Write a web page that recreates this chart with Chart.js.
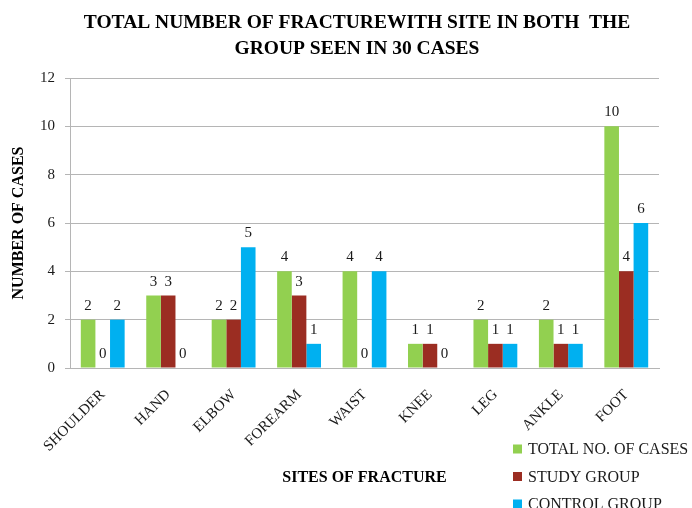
<!DOCTYPE html>
<html lang="en">
<head>
    <meta charset="UTF-8">
    <title>Total number of fracture with site</title>
    <script src="https://cdn.jsdelivr.net/npm/chart.js"></script>
    <style>
        html, body { margin: 0; padding: 0; background: #fff; }
        #wrap { width: 692px; height: 508px; position: relative; }
    </style>
</head>
<body>
    <div id="wrap"><canvas id="fractureChart" width="692" height="508"></canvas></div>

    <script>
        // data
        const sites = ['SHOULDER', 'HAND', 'ELBOW', 'FOREARM', 'WAIST', 'KNEE', 'LEG', 'ANKLE', 'FOOT'];
        const totalCases = [2, 3, 2, 4, 4, 1, 2, 2, 10];
        const studyGroup = [0, 3, 2, 3, 0, 1, 1, 1, 4];
        const controlGroup = [2, 0, 5, 1, 4, 0, 1, 1, 6];
        const seriesNames = ['TOTAL NO. OF CASES', 'STUDY GROUP', 'CONTROL GROUP'];
        const seriesColors = ['#92D050', '#9B2D22', '#00B0F0'];
        const yTicks = [0, 2, 4, 6, 8, 10, 12];
        const titleLines = ['TOTAL NUMBER OF FRACTUREWITH SITE IN BOTH  THE', 'GROUP SEEN IN 30 CASES'];

        const serif = '"Liberation Serif", "DejaVu Serif", serif';
        const ink = '#1a1a1a';

        // two line title, centred a little left of the plot centre like the original
        const chartTitle = {
            id: 'chartTitle',
            afterDraw(chart) {
                const ctx = chart.ctx;
                ctx.save();
                ctx.font = 'bold 19.5px ' + serif;
                ctx.fillStyle = '#000';
                ctx.textAlign = 'center';
                ctx.textBaseline = 'alphabetic';
                titleLines.forEach((line, i) => ctx.fillText(line, 357, 28 + i * 25.5));
                ctx.restore();
            }
        };

        // value labels above every bar
        const barLabels = {
            id: 'barLabels',
            afterDatasetsDraw(chart) {
                const ctx = chart.ctx;
                ctx.save();
                ctx.font = '15px ' + serif;
                ctx.fillStyle = ink;
                ctx.textAlign = 'center';
                ctx.textBaseline = 'alphabetic';
                chart.data.datasets.forEach((ds, i) => {
                    chart.getDatasetMeta(i).data.forEach((bar, j) => {
                        ctx.fillText(String(ds.data[j]), bar.x, bar.y - 10);
                    });
                });
                ctx.restore();
            }
        };

        // legend stacked in the bottom right corner
        const cornerLegend = {
            id: 'cornerLegend',
            afterDraw(chart) {
                const ctx = chart.ctx;
                ctx.save();
                ctx.font = '16px ' + serif;
                ctx.textBaseline = 'middle';
                ctx.textAlign = 'left';
                seriesNames.forEach((name, i) => {
                    const cy = 449 + i * 27.5;
                    ctx.fillStyle = seriesColors[i];
                    ctx.fillRect(513, cy - 4.5, 9, 9);
                    ctx.fillStyle = ink;
                    ctx.fillText(name, 528, cy + 1);
                });
                ctx.restore();
            }
        };

        const ctx = document.getElementById('fractureChart').getContext('2d');
        new Chart(ctx, {
            type: 'bar',
            data: {
                labels: sites,
                datasets: [
                    { label: seriesNames[0], data: totalCases, backgroundColor: seriesColors[0] },
                    { label: seriesNames[1], data: studyGroup, backgroundColor: seriesColors[1] },
                    { label: seriesNames[2], data: controlGroup, backgroundColor: seriesColors[2] }
                ]
            },
            options: {
                responsive: false,
                animation: false,
                devicePixelRatio: 1,
                layout: { padding: { left: 0, right: 33, top: 78, bottom: 0 } },
                datasets: { bar: { categoryPercentage: 0.67, barPercentage: 1.0 } },
                plugins: {
                    legend: { display: false },
                    tooltip: { enabled: false },
                    title: { display: false }
                },
                scales: {
                    x: {
                        afterFit(scale) { scale.height = 140; },
                        grid: { display: false, drawTicks: false },
                        border: { display: true, color: '#B5B5B5' },
                        ticks: {
                            color: ink,
                            font: { family: serif, size: 15 },
                            minRotation: 45,
                            maxRotation: 45,
                            padding: 18
                        },
                        title: {
                            display: true,
                            text: 'SITES OF FRACTURE',
                            color: '#000',
                            font: { family: serif, size: 16, weight: 'bold', lineHeight: 1.2 },
                            padding: { top: 0, bottom: 21 }
                        }
                    },
                    y: {
                        min: 0,
                        max: 12,
                        afterFit(scale) { scale.width = 70; },
                        afterBuildTicks(scale) { scale.ticks = yTicks.map(v => ({ value: v })); },
                        grid: { color: '#B5B5B5', tickLength: 5, drawTicks: true },
                        border: { display: true, color: '#B5B5B5' },
                        ticks: {
                            color: ink,
                            font: { family: serif, size: 15 },
                            padding: 10
                        },
                        title: {
                            display: true,
                            text: 'NUMBER OF CASES',
                            color: '#000',
                            font: { family: serif, size: 16, weight: 'bold', lineHeight: 1.2 },
                            padding: { top: 9, bottom: 0 }
                        }
                    }
                }
            },
            plugins: [chartTitle, barLabels, cornerLegend]
        });
    </script>
</body>
</html>
